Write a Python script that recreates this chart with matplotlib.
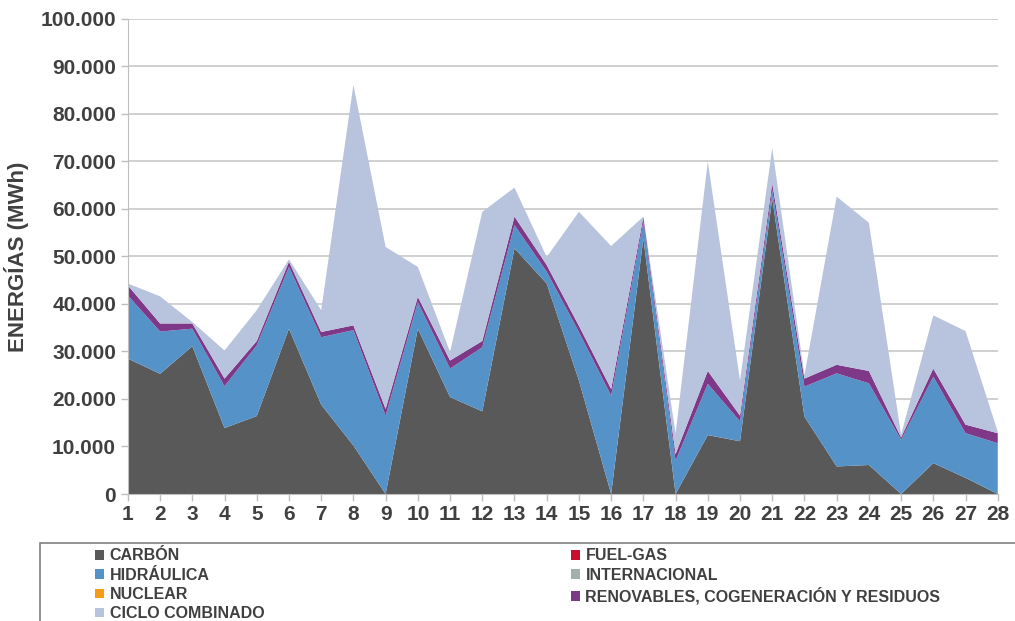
import matplotlib.pyplot as plt
from matplotlib.patches import Rectangle
from matplotlib.ticker import FuncFormatter

plt.rcParams['font.family'] = ['Liberation Sans', 'DejaVu Sans']

dias = list(range(1, 29))

carbon = [28.5, 25.3, 31.1, 13.9, 16.4, 34.8, 18.8, 10.2, 0.0, 34.8,
          20.4, 17.4, 51.7, 44.3, 23.9, 0.0, 53.8, 0.0, 12.4, 11.1,
          62.2, 16.3, 5.8, 6.1, 0.0, 6.5, 3.4, 0.0]
fuel_gas = [0.0] * 28
hidraulica = [13.3, 8.9, 3.7, 8.8, 14.9, 13.0, 14.2, 24.3, 16.5, 5.6,
              6.0, 13.5, 4.9, 2.5, 10.2, 20.7, 3.5, 7.0, 10.8, 4.2,
              1.8, 6.3, 19.6, 17.2, 11.4, 18.2, 9.4, 10.7]
internacional = [0.0] * 28
nuclear = [0.0] * 28
renovables = [2.1, 1.7, 1.1, 1.6, 0.9, 1.1, 1.1, 1.0, 1.4, 1.1,
              1.7, 1.3, 1.8, 1.4, 1.3, 1.4, 1.0, 1.4, 2.7, 1.2,
              1.4, 1.7, 1.8, 2.6, 0.5, 1.7, 1.8, 2.1]
ciclo_combinado = [0.4, 5.7, 0.3, 5.9, 6.5, 0.5, 4.6, 50.6, 34.1, 6.3,
                   1.8, 27.2, 6.1, 1.7, 24.0, 30.1, 0.1, 4.3, 44.1, 7.4,
                   7.4, 0.7, 35.4, 31.2, 0.6, 11.2, 19.7, 0.3]

nombres = ['CARBÓN', 'FUEL-GAS', 'HIDRÁULICA', 'INTERNACIONAL', 'NUCLEAR',
           'RENOVABLES, COGENERACIÓN Y RESIDUOS', 'CICLO COMBINADO']
colores = ['#595959', '#C8102E', '#5592C8', '#A3B1AC', '#F59B16',
           '#7F3888', '#B8C3DE']

series = [carbon, fuel_gas, hidraulica, internacional, nuclear,
          renovables, ciclo_combinado]
series = [[v * 1000 for v in s] for s in series]

fig = plt.figure(figsize=(10.15, 6.21), dpi=100)
ax = fig.add_axes([0.126, 0.2045, 0.857, 0.765])

polys = ax.stackplot(dias, *series, colors=colores, labels=nombres, linewidth=0)

ax.set_xlim(1, 28)
ax.set_ylim(0, 100000)
ax.set_yticks(range(0, 100001, 10000))
ax.set_xticks(dias)
ax.yaxis.set_major_formatter(FuncFormatter(lambda v, p: f'{int(v):,}'.replace(',', '.')))
ax.grid(axis='y', color='#C8C8C8', linewidth=1.2)
ax.set_axisbelow(True)
for s in ['top', 'right']:
    ax.spines[s].set_visible(False)
ax.spines['left'].set_color('#BFBFBF')
ax.spines['bottom'].set_color('#BFBFBF')
ax.tick_params(axis='both', colors='#BFBFBF', length=5, width=1,
               labelcolor='#404040', labelsize=15)
ax.tick_params(axis='x', pad=3)
for lbl in ax.get_xticklabels() + ax.get_yticklabels():
    lbl.set_fontweight('bold')
ax.set_ylabel('ENERGÍAS (MWh)', fontsize=16, fontweight='bold', color='#404040', labelpad=8)

# caja de la leyenda (cortada por el borde de la figura)
fig.patches.append(Rectangle((40 / 1015, -0.1), 1.2, 0.1 + (621 - 543) / 621,
                             transform=fig.transFigure, fill=False,
                             edgecolor='#808080', linewidth=1.2, clip_on=False))

orden = [0, 2, 4, 6, 1, 3, 5]
handles = [polys[i] for i in orden]
labels = [nombres[i] for i in orden]
leg = fig.legend(handles, labels, ncol=2, loc='upper left',
                 bbox_to_anchor=(89 / 1015, 1 - 542 / 621), frameon=False,
                 handlelength=0.55, handleheight=0.55, handletextpad=0.35,
                 columnspacing=19.2, labelspacing=0.27, borderaxespad=0,
                 prop={'weight': 'bold', 'size': 11.5})
for t in leg.get_texts():
    t.set_color('#404040')

fig.savefig('out.png', dpi=100)
